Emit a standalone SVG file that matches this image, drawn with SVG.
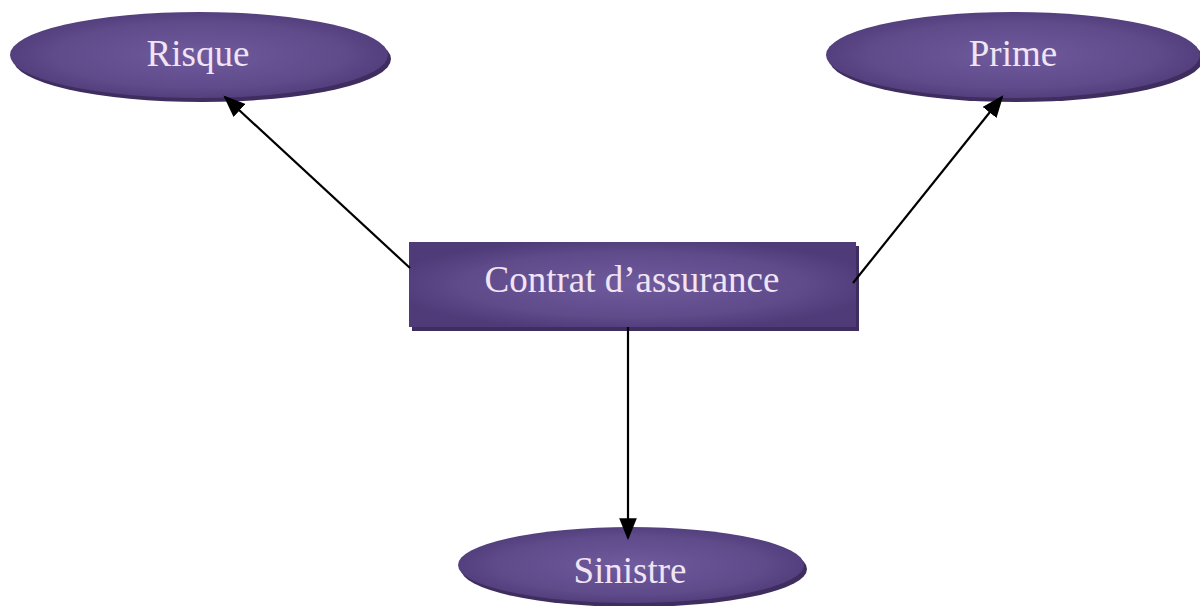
<svg xmlns="http://www.w3.org/2000/svg" width="1200" height="606" viewBox="0 0 1200 606">
<defs>
<radialGradient id="g" cx="50%" cy="50%" r="55%">
<stop offset="0" stop-color="#6f5b9d"/>
<stop offset="0.7" stop-color="#5f4a8a"/>
<stop offset="1" stop-color="#4f3b78"/>
</radialGradient>
<marker id="ah" viewBox="0 0 10 8" refX="9" refY="4" markerWidth="10" markerHeight="8" orient="auto" markerUnits="strokeWidth">
<path d="M0,0 L10,4 L0,8 z" fill="#000"/>
</marker>
</defs>
<style>
.sh{fill:#3e2d5e}
.nd{fill:url(#g)}
.lb{font-family:"Liberation Serif",serif;font-size:37px;fill:#f1e4f4;text-anchor:middle}
.cn{stroke:#000;stroke-width:2.2;fill:none;marker-end:url(#ah)}
</style>
<rect width="1200" height="606" fill="#fff"/>
<g id="risque">
<ellipse class="sh" cx="202" cy="59" rx="189" ry="43"/>
<ellipse class="nd" cx="199" cy="55" rx="189" ry="43"/>
<text class="lb" x="198" y="66">Risque</text>
</g>
<g id="prime">
<ellipse class="sh" cx="1016" cy="59" rx="187" ry="43"/>
<ellipse class="nd" cx="1013" cy="55" rx="187" ry="43"/>
<text class="lb" x="1013" y="66">Prime</text>
</g>
<g id="contrat">
<rect class="sh" x="412" y="246" width="447" height="85"/>
<rect class="nd" x="409" y="242" width="447" height="85"/>
<text class="lb" x="632" y="292">Contrat d’assurance</text>
</g>
<g id="sinistre">
<ellipse class="sh" cx="634" cy="569" rx="173" ry="38"/>
<ellipse class="nd" cx="631" cy="565" rx="173" ry="38"/>
<text class="lb" x="630" y="583">Sinistre</text>
</g>
<g id="connectors">
<line class="cn" x1="410" y1="268" x2="225" y2="97"/>
<line class="cn" x1="853" y1="283" x2="1002" y2="97"/>
<line class="cn" x1="628" y1="327" x2="628" y2="538"/>
</g>
</svg>
